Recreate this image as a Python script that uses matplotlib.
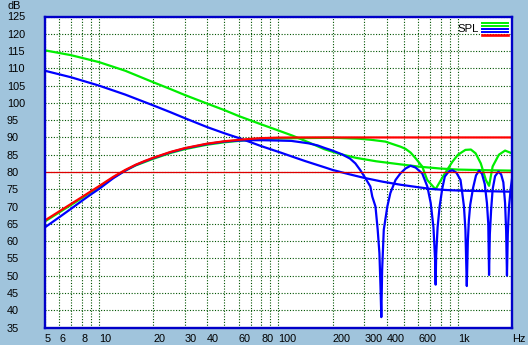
import matplotlib
matplotlib.use("Agg")
import matplotlib.pyplot as plt
from matplotlib.lines import Line2D

plt.rcParams['font.family'] = ['Liberation Sans', 'DejaVu Sans']

# ---------------- data ----------------
green1_f = [5, 7, 10, 14, 20, 25, 30, 40, 50, 60, 80, 100, 120, 150, 180, 220, 270, 350, 480, 620, 800, 1000, 1500, 2000]
green1_db = [115.2, 113.8, 111.8, 109.3, 106.0, 104.0, 102.3, 99.8, 97.9, 96.2, 93.8, 92.0, 90.5, 88.4, 86.6, 85.2,
             84.1, 83.1, 82.2, 81.5, 81.0, 80.7, 80.5, 80.4]

green2_f = [5, 6, 7, 8, 9, 10, 12, 14, 16, 18, 20, 25, 30, 35, 40, 50, 60, 70, 80, 100, 130, 200, 286, 330, 394,
            449, 480, 510, 545, 580, 632, 674, 750, 836, 932, 1000, 1100, 1180, 1254, 1340, 1430, 1490, 1560, 1690,
            1830, 2000]
green2_db = [65.7, 68.3, 70.5, 72.4, 74.2, 75.7, 78.4, 80.4, 81.9, 82.9, 83.8, 85.5, 86.6, 87.3, 87.9, 88.6, 89.0,
             89.3, 89.5, 89.7, 89.8, 89.9, 89.6, 89.3, 88.8, 87.8, 87.3, 86.7, 85.6, 84.0, 81.6, 77.7, 75.0, 79.2,
             83.0, 85.0, 86.4, 86.5, 85.4, 82.5, 77.7, 76.0, 81.6, 85.0, 86.2, 85.4]

blue1_f = [5, 7, 10, 14, 20, 25, 30, 40, 50, 62, 80, 103, 140, 182, 200, 250, 300, 380, 480, 600, 706, 850, 1040, 1300, 2000]
blue1_db = [109.3, 107.4, 105.0, 102.4, 99.3, 97.3, 95.6, 93.0, 91.2, 89.6, 87.5, 85.6, 83.2, 81.3, 80.6, 79.3,
            78.3, 77.2, 76.3, 75.6, 75.1, 74.8, 74.6, 74.5, 74.3]

blue2_f = [5, 6, 7, 8, 9, 10, 12, 14, 16, 18, 20, 25, 30, 35, 40, 50, 60, 70, 81, 100, 118, 147, 165, 182, 200,
           226, 250, 268, 285, 305, 325, 333, 347, 357, 365, 370, 374,
           378, 386, 404, 420, 449, 478, 510, 544, 580, 632, 675, 705, 730, 745, 751, 756, 770, 790, 818,
           845, 890, 932, 980, 1033, 1050, 1080, 1100, 1120, 1135, 1150, 1170, 1215, 1260, 1310, 1360, 1410,
           1450, 1475, 1490, 1505, 1530, 1560, 1610, 1680, 1740, 1790, 1830, 1855, 1875, 1895, 1925, 1970, 2000]
blue2_db = [64.0, 66.9, 69.4, 71.6, 73.5, 75.1, 78.2, 80.4, 82.0, 83.1, 84.0, 85.7, 86.8, 87.5, 88.1, 88.8, 89.1,
            89.2, 89.2, 89.1, 89.0, 88.3, 87.7, 86.9, 86.2, 85.1, 83.9, 82.5, 80.6, 78.2, 75.8, 72.9, 70.0, 63.3,
            56.5, 46.9, 38.0,
            51.7, 63.3, 70.0, 73.9, 77.7, 79.6, 81.0, 81.8, 81.3, 79.6, 75.8, 71.0, 64.0, 55.0, 47.4, 56.0, 64.0,
            70.0, 75.3,
            78.7, 80.2, 80.5, 79.8, 77.7, 75.0, 70.0, 63.3, 47.0, 60.0, 66.0, 70.5, 75.5, 79.0, 80.4, 79.5, 76.5,
            71.0, 65.0, 50.2, 62.0, 69.0, 75.0, 78.8, 80.1, 79.3, 77.0, 71.0, 63.0, 50.0, 62.0, 70.0, 75.5, 78.0]

red1_f = [5, 6, 7, 8, 9, 10, 12, 14, 16, 18, 20, 25, 30, 35, 40, 50, 60, 70, 80, 100, 130, 200, 500, 2000]
red1_db = [66.0, 68.6, 70.8, 72.7, 74.4, 75.9, 78.6, 80.6, 82.1, 83.2, 84.1, 85.8, 86.9, 87.6, 88.2, 88.9, 89.3,
           89.6, 89.8, 89.95, 90.0, 90.0, 90.0, 90.0]

red2_f = [5, 2000]
red2_db = [80.0, 80.0]

x_grid = [5, 6, 7, 8, 9, 10, 20, 30, 40, 50, 60, 70, 80, 90, 100, 200, 300, 400, 500, 600, 700, 800, 900, 1000, 2000]
x_labels = ['5', '6', '', '8', '', '10', '20', '30', '40', '', '60', '', '80', '', '100', '200', '300', '400', '', '600',
            '', '', '', '1k', 'Hz']
y_ticks = list(range(35, 130, 5))
legend_title = 'SPL'
y_unit = 'dB'

# ---------------- figure ----------------
W, H = 528, 345
bg = '#a0c4dc'
fig = plt.figure(figsize=(W / 100, H / 100), dpi=100, facecolor=bg)
ax = fig.add_axes([45 / W, (H - 327.5) / H, 467 / W, 311 / H])
ax.set_facecolor('white')
ax.set_xscale('log')
ax.set_xlim(5, 2000)
ax.set_ylim(35, 125)

grid_kw = dict(color='#005400', linewidth=0.8, linestyle=(0, (1, 1.5)))
ax.set_xticks(x_grid)
ax.set_xticklabels(x_labels)
ax.xaxis.set_minor_locator(matplotlib.ticker.NullLocator())
ax.set_yticks(y_ticks)
ax.set_yticklabels([str(v) for v in y_ticks])
ax.grid(True, which='major', **grid_kw)
ax.tick_params(axis='both', length=0, labelsize=7.8, colors='black')
ax.tick_params(axis='x', pad=4.5)
ax.tick_params(axis='y', pad=27.5)
for lbl in ax.get_xticklabels():
    lbl.set_ha('left')
for lbl in ax.get_yticklabels():
    lbl.set_ha('left')

lw = 1.6
ax.plot(green1_f, green1_db, color='#00ee00', lw=lw, zorder=3)
ax.plot(green2_f, green2_db, color='#00ee00', lw=lw, zorder=3)
ax.plot(blue1_f, blue1_db, color='#0000ff', lw=lw, zorder=4)
ax.plot(blue2_f, blue2_db, color='#0000ff', lw=lw, zorder=4)
ax.plot(red1_f, red1_db, color='#ff0000', lw=lw, zorder=5)
ax.plot(red2_f, red2_db, color='#dd0000', lw=0.9, zorder=5)

for s in ax.spines.values():
    s.set_color('#0000c8')
    s.set_linewidth(1.7)
    s.set_zorder(6)

# unit label and legend
fig.text(7 / W, 1 - 6 / H, y_unit, ha='left', va='center', fontsize=7.8)
fig.text(457 / W, 1 - 29.5 / H, legend_title, ha='left', va='center', fontsize=8.2)
leg_cols = ['#00ee00', '#00ee00', '#0000ff', '#0000ff', '#ff0000']
leg_y = [22.7, 25.7, 28.8, 31.7, 34.5]
leg_w = [1.4, 1.4, 1.4, 1.4, 1.9]
for c, yy, ww in zip(leg_cols, leg_y, leg_w):
    fig.add_artist(Line2D([482 / W, 508 / W], [1 - yy / H, 1 - yy / H], color=c, lw=ww,
                          transform=fig.transFigure, zorder=7))

fig.savefig('out.png', dpi=100, facecolor=bg)
